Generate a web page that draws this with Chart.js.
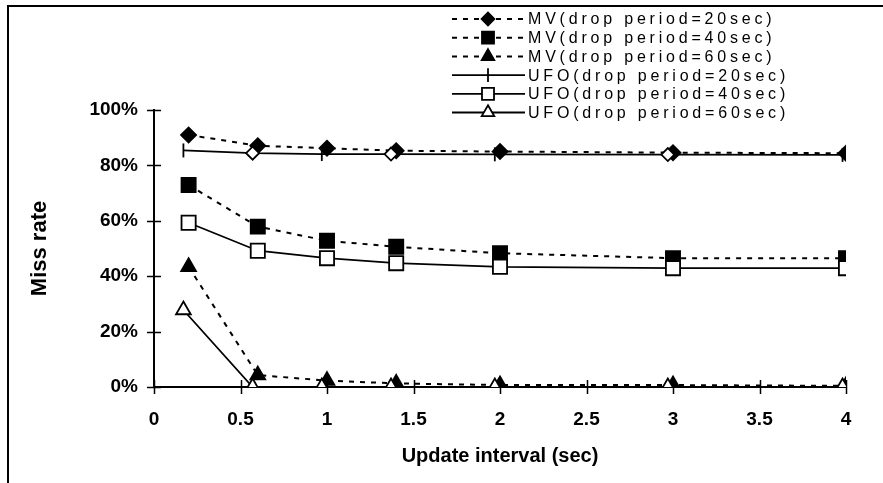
<!DOCTYPE html>
<html>
<head>
<meta charset="utf-8">
<script src="https://cdn.jsdelivr.net/npm/chart.js@4/dist/chart.umd.min.js"></script>
<style>
  html, body { margin: 0; padding: 0; background: #fff; }
  #wrap { width: 883px; height: 483px; }
</style>
</head>
<body>
<div id="wrap"><canvas id="missChart" width="883" height="483"></canvas></div>
<script>
// ── Data ─────────────────────────────────────────────────────────────────
const seriesLabels = [
    'MV(drop period=20sec)',
    'MV(drop period=40sec)',
    'MV(drop period=60sec)',
    'UFO(drop period=20sec)',
    'UFO(drop period=40sec)',
    'UFO(drop period=60sec)'
];
const intervalsMV = [0.2, 0.6, 1, 1.4, 2, 3, 4];
const intervalsUFO = [0.17, 0.57, 0.97, 1.37, 1.97, 2.97, 3.98];

const mv20 = [91.0, 87.1, 86.2, 85.3, 85.0, 84.6, 84.4];
const mv40 = [72.9, 57.9, 52.8, 50.6, 48.3, 46.5, 46.5];
const mv60 = [43.4, 4.3, 2.3, 1.3, 0.7, 0.7, 0.4];
const ufo20 = [85.4, 84.4, 84.1, 84.1, 84.0, 83.9, 83.8];
const ufo40 = [59.3, 49.2, 46.5, 44.7, 43.4, 42.9, 42.9];
const ufo60 = [27.8, 0, 0, 0, 0, 0, 0];

const yTicks = [0, 20, 40, 60, 80, 100];
const xTicks = [0, 0.5, 1, 1.5, 2, 2.5, 3, 3.5, 4];

const FONT = "'Liberation Sans', Arial, Helvetica, sans-serif";
const DASH = [5, 6];

const pts = (xs, ys) => xs.map((x, i) => ({ x, y: ys[i] }));

// UFO 20sec markers alternate between a bar and an open diamond
const ufo20Styles = ['line', 'rectRot', 'line', 'rectRot', 'line', 'rectRot', 'line'];

const datasets = [
    { label: seriesLabels[0], data: pts(intervalsMV, mv20), borderDash: DASH, borderWidth: 2,
      pointStyle: 'rectRot', pointRadius: 7.5, pointBackgroundColor: '#000', order: 1 },
    { label: seriesLabels[1], data: pts(intervalsMV, mv40), borderDash: DASH, borderWidth: 2,
      pointStyle: 'rect', pointRadius: 10, pointBackgroundColor: '#000', order: 1 },
    { label: seriesLabels[2], data: pts(intervalsMV, mv60), borderDash: DASH, borderWidth: 2,
      pointStyle: 'triangle', pointRadius: 8.5, pointBackgroundColor: '#000', order: 1 },
    { label: seriesLabels[3], data: pts(intervalsUFO, ufo20), borderWidth: 1.8,
      pointStyle: ufo20Styles, pointRotation: ufo20Styles.map(s => s === 'line' ? 90 : 0),
      pointRadius: ufo20Styles.map(s => s === 'line' ? 7 : 6.5),
      pointBackgroundColor: '#fff', order: 0,
      legendStyle: 'line', legendRotation: 90, legendRadius: 8 },
    { label: seriesLabels[4], data: pts(intervalsMV, ufo40), borderWidth: 1.8,
      pointStyle: 'rect', pointRadius: 10, pointBackgroundColor: '#fff', order: 0 },
    { label: seriesLabels[5], data: pts(intervalsUFO, ufo60), borderWidth: 1.8,
      pointStyle: 'triangle', pointRadius: 8.5, pointBackgroundColor: '#fff', order: 0 }
].map(ds => Object.assign({
    borderColor: '#000',
    pointBorderColor: '#000',
    pointBorderWidth: 1.8,
    tension: 0,
    fill: false
}, ds));

// ── Plugins ──────────────────────────────────────────────────────────────
const framePlugin = {
    id: 'frame',
    beforeDraw(chart) {
        const { ctx, width, height } = chart;
        ctx.save();
        ctx.fillStyle = '#fff';
        ctx.fillRect(0, 0, width, height);
        ctx.strokeStyle = '#000';
        ctx.lineWidth = 2;
        ctx.beginPath();
        ctx.moveTo(8, height);
        ctx.lineTo(8, 6);
        ctx.lineTo(width, 6);
        ctx.stroke();
        ctx.restore();
    }
};

// tick marks that cross the axis lines
const crossTicks = {
    id: 'crossTicks',
    beforeDatasetsDraw(chart) {
        const { ctx, scales: { x, y } } = chart;
        const ax = x.getPixelForValue(0);
        const ay = y.getPixelForValue(0);
        ctx.save();
        ctx.strokeStyle = '#000';
        ctx.lineWidth = 1.5;
        ctx.beginPath();
        yTicks.forEach(v => {
            const py = Math.round(y.getPixelForValue(v)) + 0.5;
            ctx.moveTo(ax - 7, py);
            ctx.lineTo(ax + 7, py);
        });
        xTicks.forEach(v => {
            const px = Math.round(x.getPixelForValue(v)) + 0.5;
            ctx.moveTo(px, ay - 7);
            ctx.lineTo(px, ay + 7);
        });
        ctx.stroke();
        ctx.restore();
    }
};

const sideLegend = {
    id: 'sideLegend',
    afterDraw(chart) {
        const { ctx } = chart;
        const x0 = 452, x1 = 525, mx = 488, tx = 528;
        ctx.save();
        chart.data.datasets.forEach((ds, i) => {
            const yy = 19 + i * 18.7;
            ctx.strokeStyle = '#000';
            ctx.lineWidth = ds.borderWidth;
            ctx.setLineDash(ds.borderDash || []);
            ctx.beginPath();
            ctx.moveTo(x0, yy);
            ctx.lineTo(x1, yy);
            ctx.stroke();
            ctx.setLineDash([]);
            ctx.fillStyle = ds.pointBackgroundColor;
            ctx.lineWidth = ds.pointBorderWidth;
            Chart.helpers.drawPoint(ctx, {
                pointStyle: ds.legendStyle || ds.pointStyle,
                rotation: ds.legendRotation || 0,
                radius: (ds.legendRadius || ds.pointRadius) * 0.85,
                borderWidth: ds.pointBorderWidth
            }, mx, yy);
            ctx.fillStyle = '#000';
            ctx.font = '16px ' + FONT;
            ctx.letterSpacing = '3.8px';
            ctx.textAlign = 'left';
            ctx.textBaseline = 'middle';
            ctx.fillText(ds.label, tx, yy + 1);
        });
        ctx.restore();
    }
};

// ── Chart ────────────────────────────────────────────────────────────────
new Chart(document.getElementById('missChart'), {
    type: 'line',
    data: { datasets },
    options: {
        responsive: false,
        animation: false,
        layout: { padding: { top: 110, right: 37, left: 0, bottom: 0 } },
        plugins: { legend: { display: false }, tooltip: { enabled: false } },
        scales: {
            x: {
                type: 'linear',
                min: 0,
                max: 4,
                afterFit: s => { s.height = 96; },
                afterBuildTicks: s => { s.ticks = xTicks.map(v => ({ value: v })); },
                grid: { drawOnChartArea: false, drawTicks: false },
                border: { color: '#000', width: 2 },
                ticks: {
                    color: '#000',
                    padding: 21,
                    maxRotation: 0,
                    callback: v => String(v),
                    font: { family: FONT, size: 19, weight: 'bold' }
                },
                title: {
                    display: true,
                    text: 'Update interval (sec)',
                    color: '#000',
                    padding: { top: 0, bottom: 15 },
                    font: { family: FONT, size: 20, weight: 'bold' }
                }
            },
            y: {
                min: 0,
                max: 100,
                afterFit: s => { s.width = 154; },
                afterBuildTicks: s => { s.ticks = yTicks.map(v => ({ value: v })); },
                grid: { drawOnChartArea: false, drawTicks: false },
                border: { color: '#000', width: 2 },
                ticks: {
                    color: '#000',
                    padding: 16,
                    callback: v => v + '%',
                    font: { family: FONT, size: 19, weight: 'bold' }
                },
                title: {
                    display: true,
                    text: 'Miss rate',
                    color: '#000',
                    padding: { top: 27, bottom: 0 },
                    font: { family: FONT, size: 22, weight: 'bold' }
                }
            }
        }
    },
    plugins: [framePlugin, crossTicks, sideLegend]
});
</script>
</body>
</html>
